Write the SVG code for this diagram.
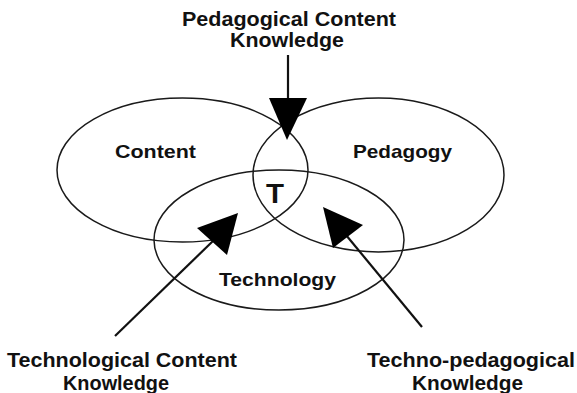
<svg xmlns="http://www.w3.org/2000/svg" width="577" height="393" viewBox="0 0 577 393">
<style>
.set{fill:none;stroke:#1a1a1a;stroke-width:1.5}
.lbl{font-family:"Liberation Sans",Arial,sans-serif;font-weight:bold;fill:#111;text-anchor:start}
.ln{stroke:#111;stroke-width:2.2;fill:none}
.hd{fill:#000;stroke:none}
</style>
<rect width="577" height="393" fill="#fff"/>
<g id="content">
<ellipse class="set" cx="182.5" cy="170" rx="125.5" ry="72"/>
<text class="lbl" x="115" y="158" font-size="19" textLength="81" lengthAdjust="spacingAndGlyphs">Content</text>
</g>
<g id="pedagogy">
<ellipse class="set" cx="378.5" cy="175" rx="125.5" ry="77"/>
<text class="lbl" x="353" y="158" font-size="19" textLength="99" lengthAdjust="spacingAndGlyphs">Pedagogy</text>
</g>
<g id="technology">
<ellipse class="set" cx="279" cy="240" rx="125" ry="70"/>
<text class="lbl" x="219" y="286" font-size="19" textLength="117" lengthAdjust="spacingAndGlyphs">Technology</text>
</g>
<g id="center">
<text class="lbl" x="266" y="203" font-size="27" textLength="18" lengthAdjust="spacingAndGlyphs">T</text>
</g>
<g id="pck">
<text class="lbl" x="182" y="26" font-size="20" textLength="214" lengthAdjust="spacingAndGlyphs">Pedagogical Content</text>
<text class="lbl" x="230" y="47" font-size="20" textLength="114" lengthAdjust="spacingAndGlyphs">Knowledge</text>
</g>
<g id="tck">
<text class="lbl" x="7" y="367" font-size="21" textLength="230" lengthAdjust="spacingAndGlyphs">Technological Content</text>
<text class="lbl" x="63" y="390" font-size="21" textLength="106" lengthAdjust="spacingAndGlyphs">Knowledge</text>
</g>
<g id="tpk">
<text class="lbl" x="367" y="367" font-size="21" textLength="208" lengthAdjust="spacingAndGlyphs">Techno-pedagogical</text>
<text class="lbl" x="412" y="390" font-size="21" textLength="111" lengthAdjust="spacingAndGlyphs">Knowledge</text>
</g>
<g id="connectors">
<line class="ln" x1="288" y1="55" x2="288" y2="100"/>
<polygon class="hd" points="269,98 307,98 287,140"/>
<line class="ln" x1="115" y1="336" x2="214" y2="240"/>
<polygon class="hd" points="238,213 197,228 227,255"/>
<line class="ln" x1="422" y1="327" x2="346" y2="235"/>
<polygon class="hd" points="323,207 363,225 333,248"/>
</g>
</svg>
